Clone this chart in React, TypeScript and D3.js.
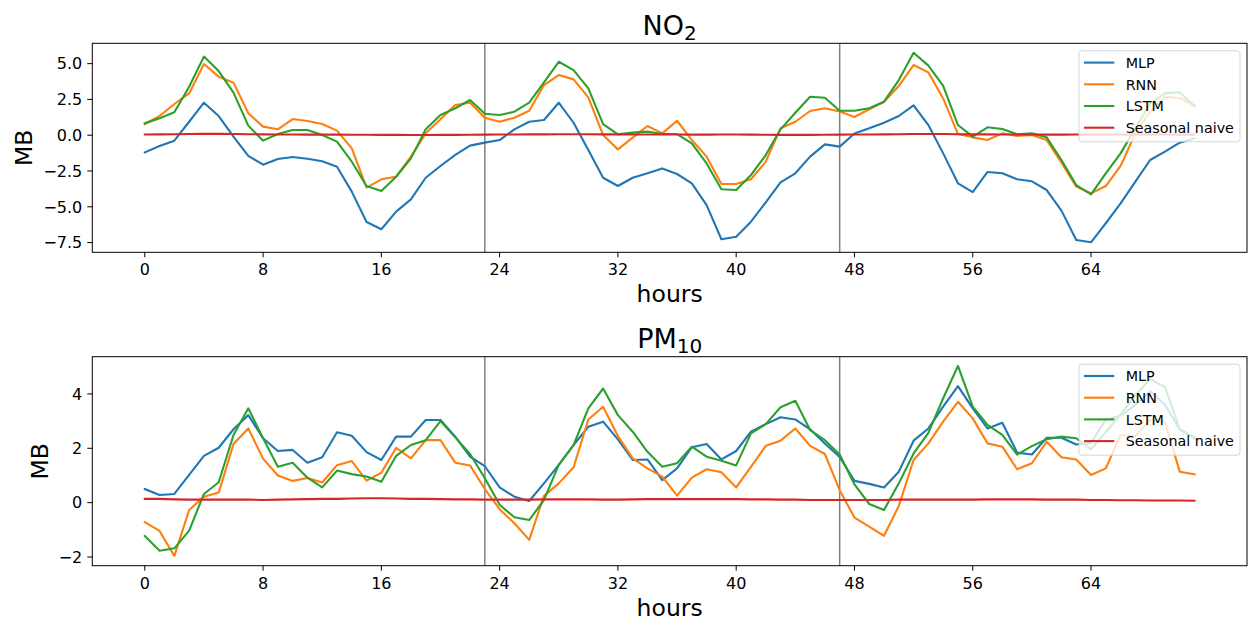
import React from "react";
import * as d3 from "d3";

const hours = d3.range(72);
const xTicks = [0, 8, 16, 24, 32, 40, 48, 56, 64];
const splitHours = [23, 47];
const seriesNames = ["MLP", "RNN", "LSTM", "Seasonal naive"];
const seriesColors = ["#1f77b4", "#ff7f0e", "#2ca02c", "#d62728"];

// NO2 panel
const no2MLP = [
  -1.2, -0.75, -0.38, 0.94, 2.27, 1.34, -0.1, -1.45, -2.06, -1.66, -1.52, -1.64,
  -1.82, -2.2, -3.94, -6.06, -6.57, -5.34, -4.48, -2.97, -2.15, -1.38, -0.73, -0.52,
  -0.34, 0.41, 0.94, 1.06, 2.27, 0.87, -1.03, -2.97, -3.55, -2.97, -2.66, -2.32,
  -2.71, -3.36, -4.88, -7.27, -7.09, -6.04, -4.69, -3.29, -2.66, -1.5, -0.64, -0.8,
  0.12, 0.48, 0.87, 1.34, 2.09, 0.71, -1.27, -3.36, -3.97, -2.57, -2.66, -3.08,
  -3.22, -3.83, -5.27, -7.32, -7.48, -6.15, -4.76, -3.24, -1.73, -1.15, -0.52, -0.22,
];
const no2RNN = [
  0.78, 1.34, 2.18, 2.92, 4.97, 4.09, 3.67, 1.53, 0.6, 0.41, 1.13, 0.99,
  0.78, 0.32, -0.92, -3.66, -3.08, -2.9, -1.5, 0.13, 1.11, 2.11, 2.27, 1.22,
  0.94, 1.22, 1.71, 3.5, 4.2, 3.9, 2.64, 0.01, -0.99, -0.17, 0.64, 0.13,
  1.01, -0.34, -1.5, -3.41, -3.41, -3.08, -1.85, 0.48, 0.94, 1.69, 1.88, 1.66,
  1.27, 1.81, 2.34, 3.44, 4.9, 4.39, 2.57, 0.08, -0.15, -0.34, 0.13, -0.06,
  0.01, -0.34, -1.92, -3.59, -4.06, -3.55, -2.15, 0.13, 1.65, 2.69, 2.6, 2.06,
];
const no2LSTM = [
  0.83, 1.18, 1.6, 3.39, 5.49, 4.48, 2.97, 0.67, -0.38, 0.08, 0.36, 0.36,
  0.01, -0.45, -1.85, -3.55, -3.9, -2.9, -1.62, 0.41, 1.41, 1.88, 2.46, 1.5,
  1.41, 1.64, 2.27, 3.69, 5.13, 4.55, 3.27, 0.78, 0.06, 0.18, 0.25, 0.08,
  0.08, -0.57, -1.97, -3.78, -3.83, -2.78, -1.39, 0.41, 1.57, 2.69, 2.62, 1.71,
  1.71, 1.88, 2.34, 3.85, 5.76, 4.86, 3.44, 0.71, -0.1, 0.55, 0.43, 0.06,
  0.13, -0.15, -1.73, -3.48, -4.13, -2.66, -1.27, 0.48, 2.2, 2.92, 3.0, 2.04,
];
const no2Naive = [
  0.05, 0.06, 0.07, 0.08, 0.09, 0.09, 0.08, 0.07, 0.06, 0.05, 0.05, 0.04,
  0.04, 0.04, 0.03, 0.03, 0.02, 0.02, 0.01, 0.01, 0.02, 0.02, 0.03, 0.04,
  0.05, 0.05, 0.06, 0.06, 0.07, 0.07, 0.07, 0.06, 0.06, 0.05, 0.05, 0.05,
  0.05, 0.04, 0.04, 0.05, 0.05, 0.04, 0.03, 0.02, 0.02, 0.02, 0.03, 0.04,
  0.05, 0.05, 0.06, 0.07, 0.08, 0.08, 0.08, 0.07, 0.06, 0.06, 0.05, 0.05,
  0.05, 0.04, 0.04, 0.05, 0.05, 0.05, 0.05, 0.05, 0.05, 0.05, 0.04, 0.04,
];
const no2YTicks = [-7.5, -5, -2.5, 0, 2.5, 5];

// PM10 panel
const pm10MLP = [
  0.5, 0.28, 0.32, 1.02, 1.72, 2.02, 2.7, 3.22, 2.37, 1.9, 1.94, 1.47,
  1.67, 2.59, 2.46, 1.86, 1.57, 2.43, 2.43, 3.04, 3.04, 2.43, 1.69, 1.34,
  0.56, 0.22, 0.06, 0.71, 1.39, 2.12, 2.79, 2.98, 2.33, 1.57, 1.59, 0.83,
  1.26, 2.04, 2.16, 1.59, 1.9, 2.61, 2.89, 3.14, 3.06, 2.7, 2.18, 1.68,
  0.8, 0.69, 0.56, 1.14, 2.28, 2.73, 3.53, 4.29, 3.47, 2.73, 2.94, 1.84,
  1.77, 2.39, 2.39, 2.14, 2.2, 3.05, 3.2, 3.6, 4.1, 3.6, 2.7, 2.4,
];
const pm10RNN = [
  -0.72, -1.04, -1.96, -0.27, 0.22, 0.37, 2.16, 2.73, 1.62, 1.0, 0.8, 0.91,
  0.74, 1.38, 1.53, 0.81, 1.1, 2.02, 1.63, 2.3, 2.3, 1.47, 1.37, 0.5,
  -0.24, -0.76, -1.37, 0.25, 0.71, 1.3, 3.06, 3.53, 2.45, 1.63, 1.26, 0.96,
  0.26, 0.92, 1.23, 1.12, 0.56, 1.32, 2.09, 2.28, 2.73, 2.09, 1.79, 0.46,
  -0.55, -0.88, -1.22, -0.12, 1.57, 2.18, 2.98, 3.71, 3.1, 2.18, 2.06, 1.23,
  1.45, 2.24, 1.67, 1.59, 1.02, 1.26, 2.49, 2.45, 3.04, 2.98, 1.14, 1.04,
];
const pm10LSTM = [
  -1.23, -1.77, -1.68, -1.03, 0.32, 0.75, 2.49, 3.47, 2.37, 1.32, 1.47, 0.92,
  0.56, 1.18, 1.05, 0.96, 0.77, 1.72, 2.12, 2.3, 3.0, 2.4, 1.79, 0.9,
  -0.08, -0.54, -0.64, 0.1, 1.39, 2.12, 3.47, 4.2, 3.22, 2.61, 1.87, 1.32,
  1.45, 2.06, 1.69, 1.54, 1.37, 2.55, 2.89, 3.51, 3.75, 2.67, 2.3, 1.77,
  0.67, -0.05, -0.27, 0.71, 1.81, 2.57, 3.84, 5.03, 3.53, 2.86, 2.49, 1.77,
  2.08, 2.33, 2.43, 2.37, 1.96, 2.6, 3.25, 3.95, 4.55, 4.25, 2.7, 2.35,
];
const pm10Naive = [
  0.14, 0.14, 0.12, 0.11, 0.11, 0.11, 0.11, 0.11, 0.1, 0.11, 0.12, 0.13,
  0.14, 0.14, 0.15, 0.16, 0.16, 0.15, 0.14, 0.14, 0.13, 0.12, 0.12, 0.11,
  0.11, 0.11, 0.11, 0.12, 0.12, 0.12, 0.12, 0.11, 0.11, 0.12, 0.13, 0.13,
  0.13, 0.13, 0.13, 0.13, 0.13, 0.12, 0.12, 0.11, 0.11, 0.1, 0.1, 0.1,
  0.1, 0.1, 0.1, 0.11, 0.11, 0.11, 0.11, 0.11, 0.11, 0.12, 0.12, 0.12,
  0.12, 0.11, 0.11, 0.11, 0.1, 0.1, 0.09, 0.09, 0.08, 0.08, 0.08, 0.07,
];
const pm10YTicks = [-2, 0, 2, 4];

const FONT = "DejaVu Sans, Arial, sans-serif";
const X0 = 92.3;
const X1 = 1247;

type PanelProps = {
  title: string;
  sub: string;
  top: number;
  bottom: number;
  ylim: [number, number];
  yTicks: number[];
  yFmt: (v: number) => string;
  series: number[][];
  yLabelX: number;
};

function fmtMinus(s: string) {
  return s.replace("-", "\u2212");
}

function Panel(p: PanelProps) {
  const x = d3.scaleLinear().domain([-3.55, 74.55]).range([X0, X1]);
  const y = d3.scaleLinear().domain(p.ylim).range([p.bottom, p.top]);
  const line = d3
    .line<number>()
    .x((_, i) => x(hours[i]))
    .y((d) => y(d));
  const clipId = "clip-" + p.title;
  const legX = 1079;
  const legY = p.top + 7.5;
  return (
    <g>
      <defs>
        <clipPath id={clipId}>
          <rect x={X0} y={p.top} width={X1 - X0} height={p.bottom - p.top} />
        </clipPath>
      </defs>
      <g clipPath={`url(#${clipId})`}>
        {splitHours.map((h) => (
          <line
            key={h}
            x1={x(h)}
            x2={x(h)}
            y1={p.top}
            y2={p.bottom}
            stroke="#808080"
            strokeWidth={1.5}
          />
        ))}
        {p.series.map((s, i) => (
          <path
            key={i}
            d={line(s) || ""}
            fill="none"
            stroke={seriesColors[i]}
            strokeWidth={2.1}
            strokeLinejoin="round"
            strokeLinecap="square"
          />
        ))}
      </g>
      <rect
        x={X0}
        y={p.top}
        width={X1 - X0}
        height={p.bottom - p.top}
        fill="none"
        stroke="#000"
        strokeWidth={1}
      />
      {xTicks.map((t) => (
        <g key={t}>
          <line x1={x(t)} x2={x(t)} y1={p.bottom} y2={p.bottom + 5} stroke="#000" strokeWidth={1} />
          <text
            x={x(t)}
            y={p.bottom + 23}
            textAnchor="middle"
            fontFamily={FONT}
            fontSize={16}
            fill="#000"
          >
            {t}
          </text>
        </g>
      ))}
      {p.yTicks.map((t) => (
        <g key={t}>
          <line x1={X0 - 5} x2={X0} y1={y(t)} y2={y(t)} stroke="#000" strokeWidth={1} />
          <text
            x={X0 - 10}
            y={y(t) + 5.8}
            textAnchor="end"
            fontFamily={FONT}
            fontSize={16}
            fill="#000"
          >
            {fmtMinus(p.yFmt(t))}
          </text>
        </g>
      ))}
      <text
        x={(X0 + X1) / 2}
        y={p.top - 8.5}
        textAnchor="middle"
        fontFamily={FONT}
        fontSize={27}
        fill="#000"
      >
        {p.title}
        <tspan fontSize={20} dy={5}>
          {p.sub}
        </tspan>
      </text>
      <text
        x={(X0 + X1) / 2}
        y={p.bottom + 50}
        textAnchor="middle"
        fontFamily={FONT}
        fontSize={23.5}
        fill="#000"
      >
        hours
      </text>
      <text
        transform={`translate(${p.yLabelX},${(p.top + p.bottom) / 2}) rotate(-90)`}
        textAnchor="middle"
        fontFamily={FONT}
        fontSize={23.5}
        fill="#000"
      >
        MB
      </text>
      <rect
        x={legX}
        y={legY}
        width={161}
        height={91}
        rx={3}
        fill="#ffffff"
        fillOpacity={0.8}
        stroke="#cccccc"
        strokeOpacity={0.8}
        strokeWidth={1}
      />
      {seriesNames.map((n, i) => (
        <g key={n}>
          <line
            x1={1084}
            x2={1114.3}
            y1={legY + 11.8 + i * 21.7}
            y2={legY + 11.8 + i * 21.7}
            stroke={seriesColors[i]}
            strokeWidth={2.1}
          />
          <text
            x={1125.7}
            y={legY + 11.8 + i * 21.7 + 5.2}
            fontFamily={FONT}
            fontSize={14.3}
            fill="#000"
          >
            {n}
          </text>
        </g>
      ))}
    </g>
  );
}

export default function App() {
  return (
    <svg
      width={1248}
      height={619}
      style={{ position: "absolute", left: 0, top: 0, display: "block", background: "#fff" }}
    >
      <rect x={0} y={0} width={1248} height={619} fill="#fff" />
      <Panel
        title="NO"
        sub="2"
        top={43.3}
        bottom={252.3}
        ylim={[-8.18, 6.42]}
        yTicks={no2YTicks}
        yFmt={(v) => v.toFixed(1)}
        series={[no2MLP, no2RNN, no2LSTM, no2Naive]}
        yLabelX={32}
      />
      <Panel
        title="PM"
        sub="10"
        top={356.7}
        bottom={565.7}
        ylim={[-2.32, 5.37]}
        yTicks={pm10YTicks}
        yFmt={(v) => String(v)}
        series={[pm10MLP, pm10RNN, pm10LSTM, pm10Naive]}
        yLabelX={48}
      />
    </svg>
  );
}
